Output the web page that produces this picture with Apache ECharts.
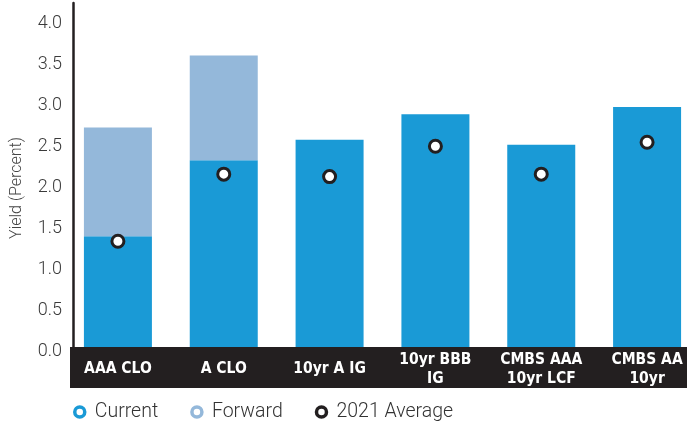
<!DOCTYPE html>
<html>
<head>
<meta charset="utf-8">
<script src="https://cdn.jsdelivr.net/npm/echarts@6/dist/echarts.min.js"></script>
<style>
    html, body { margin: 0; padding: 0; background: #fff; }
    #chart { width: 687px; height: 421px; }
</style>
</head>
<body>
<div id="chart"></div>
<script>
const categories = ['AAA CLO', 'A CLO', '10yr A IG', '10yr BBB\nIG', 'CMBS AAA\n10yr LCF', 'CMBS AA\n10yr'];
const currentYield = [1.40, 2.33, 2.58, 2.89, 2.52, 2.98];
const forwardYield = [2.73, 3.61, null, null, null, null];
const average2021 = [1.34, 2.16, 2.13, 2.50, 2.16, 2.55];

(function () {
    const el = document.getElementById('chart');
    const chart = echarts.init(el, null, {renderer: 'canvas'});

    const blue = '#1a9ad6';
    const lightBlue = '#94b8da';
    const dark = '#231f20';
    const thinFont = 'Roboto, "Liberation Sans", sans-serif';

    /*forward part sits on top of current*/
    const forwardExtra = forwardYield.map(function (v, i) {
        return v == null ? '-' : +(v - currentYield[i]).toFixed(2);
    });

    /*legend ring*/
    function ring(name, color) {
        return {
            name: name,
            icon: 'circle',
            itemStyle: {color: '#fff', borderColor: color, borderWidth: 3.5}
        };
    }

    const option = {
        animation: false,
        grid: {
            left: 65,
            width: 635,
            top: 3,
            bottom: 70,
            outerBoundsMode: 'none'
        },
        legend: {
            left: 68,
            top: 397,
            itemWidth: 20,
            itemHeight: 10,
            itemGap: 32,
            textStyle: {
                fontFamily: thinFont,
                fontWeight: 300,
                fontSize: 19.5,
                color: '#333'
            },
            data: [
                ring('Current', blue),
                ring('Forward', lightBlue),
                ring('2021 Average', dark)
            ]
        },
        graphic: [{
            type: 'rect',
            z: 5,
            shape: {x: 70, y: 347, width: 617, height: 41},
            style: {fill: dark}
        }],
        xAxis: {
            type: 'category',
            data: categories,
            z: 10,
            axisLine: {show: false},
            axisTick: {show: false},
            axisLabel: {
                interval: 0,
                margin: 18,
                verticalAlign: 'middle',
                color: '#fff',
                fontFamily: '"Liberation Sans Narrow", "DejaVu Sans Condensed", sans-serif',
                fontWeight: 'bold',
                fontSize: 15.5,
                lineHeight: 19
            }
        },
        yAxis: {
            type: 'value',
            min: 0,
            max: 4.25,
            interval: 0.5,
            offset: -8,
            name: 'Yield (Percent)',
            nameLocation: 'middle',
            nameGap: 48,
            nameTextStyle: {
                fontFamily: thinFont,
                fontWeight: 300,
                fontSize: 16,
                color: '#444',
                padding: [0, 22, 0, 0]
            },
            axisLine: {show: true, lineStyle: {color: dark, width: 2.5}},
            axisTick: {show: false},
            splitLine: {show: false},
            axisLabel: {
                margin: 11,
                padding: [3, 0, 0, 0],
                fontFamily: thinFont,
                fontWeight: 300,
                fontSize: 18,
                color: '#3a3a3a',
                formatter: function (value) {
                    return Math.round(value * 100) % 50 === 0 ? value.toFixed(1) : '';
                }
            }
        },
        series: [
            {
                name: 'Current',
                type: 'bar',
                stack: 'yield',
                barWidth: 68,
                itemStyle: {color: blue},
                data: currentYield
            },
            {
                name: 'Forward',
                type: 'bar',
                stack: 'yield',
                barWidth: 68,
                itemStyle: {color: lightBlue},
                data: forwardExtra
            },
            {
                name: '2021 Average',
                type: 'scatter',
                symbol: 'circle',
                symbolSize: 12,
                z: 4,
                itemStyle: {color: '#fff', borderColor: dark, borderWidth: 3, opacity: 1},
                data: average2021
            }
        ]
    };

    chart.setOption(option);
})();
</script>
</body>
</html>
